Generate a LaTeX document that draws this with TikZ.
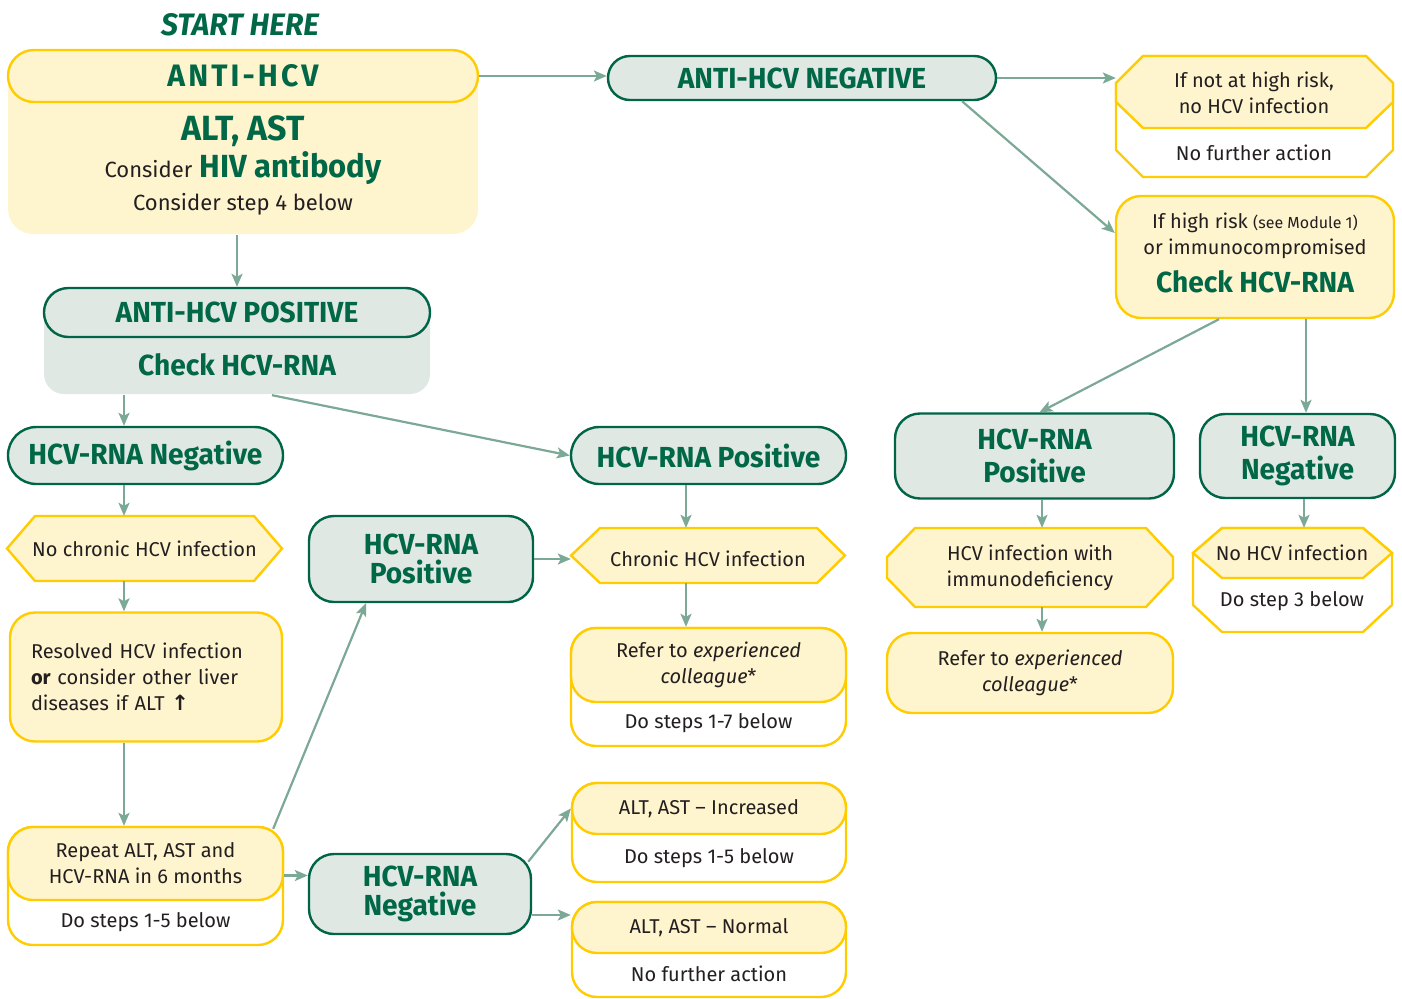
\documentclass[tikz,border=0pt]{standalone}
\usepackage{fontspec}
\setmainfont{Fira Sans}
\newfontfamily\headfont{Fira Sans}[FakeStretch=0.97]
\newfontfamily\arrowfont{DejaVu Sans}
\usetikzlibrary{arrows.meta}

\definecolor{hcvgreen}{RGB}{0,103,71}
\definecolor{hcvline}{RGB}{0,100,70}
\definecolor{hcvmist}{RGB}{224,232,228}
\definecolor{hcvgold}{RGB}{255,204,0}
\definecolor{hcvcream}{RGB}{254,244,206}
\definecolor{hcvarrow}{RGB}{124,168,150}
\definecolor{hcvink}{RGB}{35,31,32}

\newcommand\bodytext{\fontsize{20}{26}\selectfont}
\newcommand\headtext{\headfont\bfseries\fontsize{29}{33}\selectfont}
\newcommand\bigtext{\headfont\bfseries\fontsize{32}{32}\selectfont}
\newcommand\capstext{\headfont\bfseries\fontsize{31}{31}\selectfont\addfontfeature{LetterSpace=10}}
\newcommand\starttext{\headfont\bfseries\itshape\fontsize{31}{31}\selectfont}

\tikzset{
  boxsize/.style 2 args={minimum width=#1pt, minimum height=#2pt},
  flow/.style={draw=hcvarrow, line width=2.2pt, -{Stealth[length=13pt,width=11pt,inset=3pt]}},
  greenbox/.style={draw=hcvline, fill=hcvmist, line width=2.4pt, inner sep=0pt, align=center, text=hcvgreen, font=\headtext},
  goldbox/.style={draw=hcvgold, fill=hcvcream, line width=2.4pt, inner sep=0pt, align=center, text=hcvink, font=\bodytext},
  whitebox/.style={goldbox, fill=white},
  goldline/.style={draw=hcvgold, line width=2.4pt},
  label/.style={inner sep=0pt, align=center, text=hcvink, font=\bodytext},
  frame/.style={inner sep=0pt}
}

\begin{document}
\begin{tikzpicture}[x=1pt,y=-1pt]
\useasboundingbox (0,0) rectangle (1402,998);

% start box
\node[text=hcvgreen, font=\starttext] (start) at (240,25) {START HERE};
\node[goldbox, draw=none, rounded corners=25pt, boxsize={470}{184}] (anticore) at (243,142) {};
\node[goldbox, rounded corners=25.9pt, boxsize={470}{52}, text=hcvgreen, font=\capstext] (antihcv) at (243,76) {ANTI-HCV};
\node[text=hcvgreen, font=\bigtext\fontsize{35}{35}\selectfont] (altast) at (243,131) {ALT, AST};
\node[text=hcvgreen, font=\bigtext] (hivab) at (243,168) {{\normalfont\color{hcvink}\fontsize{22}{26}\selectfont Consider} HIV antibody};
\node[label, font=\fontsize{22}{26}\selectfont] (step4) at (243,204) {Consider step 4 below};

% anti-hcv negative side
\node[greenbox, rounded corners=21.9pt, boxsize={388}{44}] (antineg) at (802,78) {ANTI-HCV NEGATIVE};

\filldraw[goldline, fill=white] (1143,56) -- (1366,56) -- (1393,83) -- (1393,150) -- (1366,177) -- (1143,177) -- (1116,150) -- (1116,83) -- cycle;
\filldraw[goldline, fill=hcvcream] (1143,56) -- (1366,56) -- (1393,83) -- (1393,102) -- (1366,128) -- (1143,128) -- (1116,102) -- (1116,83) -- cycle;
\node[frame, boxsize={277}{121}] (notriskbox) at (1254.5,116.5) {};
\node[label] (notrisk) at (1254,93) {If not at high risk,\\no HCV infection};
\node[label] (notrisk-do) at (1254,153) {No further action};

\node[goldbox, rounded corners=25pt, boxsize={278}{122}] (highrisk) at (1255,257) {};
\node[label] (highrisk-text) at (1255,236) {If high risk {\fontsize{16}{20}\selectfont(see Module 1)}\\or immunocompromised};
\node[text=hcvgreen, font=\headtext] (highrisk-check) at (1255,282) {Check HCV-RNA};

\node[greenbox, rounded corners=25pt, boxsize={279}{85}] (rnapos3) at (1034.5,456) {HCV-RNA\\Positive};
\node[greenbox, rounded corners=25pt, boxsize={195}{84}] (rnaneg3) at (1297.5,456) {HCV-RNA\\Negative};

\filldraw[goldline, fill=hcvcream] (915,528) -- (1146,528) -- (1173,557) -- (1173,578) -- (1146,607) -- (915,607) -- (887,578) -- (887,557) -- cycle;
\node[label, boxsize={286}{79}] (immuno) at (1030,567.5) {HCV infection with\\immunodeficiency};

\filldraw[goldline, fill=white] (1222,528) -- (1363,528) -- (1392,553) -- (1392,605) -- (1363,632) -- (1222,632) -- (1193,605) -- (1193,553) -- cycle;
\filldraw[goldline, fill=hcvcream] (1222,528) -- (1363,528) -- (1392,553) -- (1363,578) -- (1222,578) -- (1193,553) -- cycle;
\node[frame, boxsize={199}{104}] (nohcvbox) at (1292.5,580) {};
\node[label] (nohcv) at (1292,553) {No HCV infection};
\node[label] (nohcv-do) at (1292,601) {Do step 3 below};

\node[goldbox, rounded corners=25pt, boxsize={286}{80}] (refer2) at (1030,673) {Refer to \textit{experienced}\\\textit{colleague}*};

% anti-hcv positive side
\node[greenbox, draw=none, rounded corners=20pt, boxsize={386}{106}] (antiposcore) at (237,341) {};
\node[greenbox, rounded corners=24.4pt, boxsize={386}{49}] (antipos) at (237,312.5) {ANTI-HCV POSITIVE};
\node[text=hcvgreen, font=\headtext] (antipos-check) at (237,365) {Check HCV-RNA};

\node[greenbox, rounded corners=28.4pt, boxsize={275}{57}] (rnaneg1) at (145.5,455.5) {HCV-RNA Negative};
\node[greenbox, rounded corners=28.4pt, boxsize={275}{57}] (rnapos1) at (708.5,455.5) {HCV-RNA Positive};

\filldraw[goldline, fill=hcvcream] (35,516) -- (254,516) -- (282,548.5) -- (254,581) -- (35,581) -- (7,548.5) -- cycle;
\node[label, boxsize={275}{65}] (nochronic) at (144.5,548.5) {No chronic HCV infection};

\filldraw[goldline, fill=hcvcream] (600,528) -- (817,528) -- (845,555.5) -- (817,583) -- (600,583) -- (571,555.5) -- cycle;
\node[label, boxsize={274}{55}] (chronic) at (708,555.5) {};
\node[label] (chronic-text) at (708,559) {Chronic HCV infection};

\node[greenbox, rounded corners=25pt, boxsize={224}{86}] (rnapos2) at (421,559) {HCV-RNA\\[-4pt]Positive};

\node[goldbox, rounded corners=25pt, boxsize={272}{129}, align=left, text width=230pt] (resolved) at (146,677) {Resolved HCV infection\\\textbf{or} consider other liver\\diseases if ALT {\arrowfont\bfseries\fontsize{21}{20}\selectfont ↑}};

\node[whitebox, rounded corners=25pt, boxsize={275}{118}] (refer1core) at (708.5,687) {};
\node[goldbox, rounded corners=25pt, boxsize={275}{74}] (refer1) at (708.5,665) {Refer to \textit{experienced}\\\textit{colleague}*};
\node[label] (refer1-do) at (708.5,723) {Do steps 1-7 below};

\node[whitebox, rounded corners=25pt, boxsize={275}{118}] (repeatcore) at (145.5,886) {};
\node[goldbox, rounded corners=25pt, boxsize={275}{73}] (repeat) at (145.5,863.5) {Repeat ALT, AST and\\HCV-RNA in 6 months};
\node[label] (repeat-do) at (145.5,922) {Do steps 1-5 below};

\node[greenbox, rounded corners=25pt, boxsize={222}{80}] (rnaneg2) at (420,894) {HCV-RNA\\[-4pt]Negative};

\node[whitebox, rounded corners=25pt, boxsize={274}{99}] (increasedcore) at (709,832.5) {};
\node[goldbox, rounded corners=25pt, boxsize={274}{51}] (increased) at (709,808.5) {ALT, AST -- Increased};
\node[label] (increased-do) at (709,858) {Do steps 1-5 below};

\node[whitebox, rounded corners=25pt, boxsize={274}{95}] (normalcore) at (709,949.5) {};
\node[goldbox, rounded corners=25pt, boxsize={274}{51}] (normal) at (709,927.5) {ALT, AST -- Normal};
\node[label] (normal-do) at (709,974) {No further action};

% connectors
\draw[flow] (antihcv.east) -- (antihcv.east -| antineg.west);
\draw[flow] (antineg.east) -- (antineg.east -| notriskbox.west);
\draw[flow] ([xshift=160pt]antineg.south) -- ([yshift=24pt]highrisk.west);
\draw[flow] (anticore.south -| antipos.north) -- (antipos.north);
\draw[flow] ([xshift=-21.5pt]rnaneg1.north |- antiposcore.south) -- ([xshift=-21.5pt]rnaneg1.north);
\draw[flow] ([xshift=35pt]antiposcore.south) -- (rnapos1.west);
\draw[flow] ([xshift=-21.5pt]rnaneg1.south) -- ([xshift=-21.5pt]rnaneg1.south |- nochronic.north);
\draw[flow] ([xshift=-20.5pt]nochronic.south) -- ([xshift=-20.5pt]nochronic.south |- resolved.north);
\draw[flow] ([xshift=-22pt]resolved.south) -- ([xshift=-22pt]resolved.south |- repeat.north);
\draw[flow] ([xshift=-11pt,yshift=-3pt]repeat.north east) -- ([xshift=-55pt]rnapos2.south);
\draw[flow] ([yshift=-12pt]repeat.east) -- ([yshift=-12pt]repeat.east -| rnaneg2.west);
\draw[flow] (rnapos2.east) -- (rnapos2.east -| chronic.west);
\draw[flow] ([xshift=-22.5pt]rnapos1.south) -- ([xshift=-22.5pt]rnapos1.south |- chronic.north);
\draw[flow] ([xshift=-22pt]chronic.south) -- ([xshift=-22pt]chronic.south |- refer1.north);
\draw[flow] ([xshift=-4pt,yshift=-9pt]rnaneg2.north east) -- (increased.west);
\draw[flow] ([yshift=-21pt]rnaneg2.east) -- ([yshift=-21pt]rnaneg2.east -| normal.west);
\draw[flow] ([xshift=-36pt]highrisk.south) -- ([xshift=5pt]rnapos3.north);
\draw[flow] ([xshift=51pt]highrisk.south) -- ([xshift=51pt]highrisk.south |- rnaneg3.north);
\draw[flow] ([xshift=7.5pt]rnapos3.south) -- ([xshift=7.5pt]rnapos3.south |- immuno.north);
\draw[flow] ([xshift=6.5pt]rnaneg3.south) -- ([xshift=6.5pt]rnaneg3.south |- nohcvbox.north);
\draw[flow] ([xshift=12pt]immuno.south) -- ([xshift=12pt]immuno.south |- refer2.north);
\end{tikzpicture}
\end{document}
